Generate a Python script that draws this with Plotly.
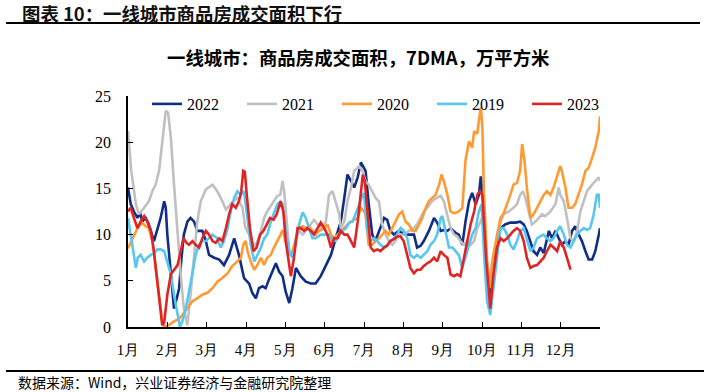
import plotly.graph_objects as go

# ---------------- data (x in months since Jan 1, value in 万平方米) ----------------
month_labels = ["1月", "2月", "3月", "4月", "5月", "6月", "7月", "8月", "9月", "10月", "11月", "12月"]
month_ticks = list(range(12))

x_2022 = [0.00, 0.07, 0.15, 0.24, 0.31, 0.36, 0.45, 0.53, 0.66, 0.75, 0.83, 0.92, 0.96, 1.00, 1.09, 1.17, 1.24, 1.30, 1.36, 1.42,
          1.51, 1.59, 1.68, 1.76, 1.89, 1.98, 2.06, 2.19, 2.32, 2.44, 2.57, 2.70, 2.82, 2.95, 3.08, 3.16, 3.25, 3.33, 3.42, 3.50,
          3.58, 3.67, 3.76, 3.84, 3.93, 4.01, 4.10, 4.18, 4.27, 4.39, 4.52, 4.65, 4.77, 4.90, 5.03, 5.16, 5.28, 5.41, 5.50, 5.58,
          5.67, 5.75, 5.84, 5.92, 5.95, 6.04, 6.12, 6.21, 6.29, 6.42, 6.51, 6.59, 6.67, 6.76, 6.89, 7.01, 7.14, 7.27, 7.35, 7.44,
          7.52, 7.65, 7.78, 7.86, 7.95, 8.03, 8.12, 8.20, 8.33, 8.41, 8.50, 8.58, 8.67, 8.75, 8.84, 8.92, 8.97, 9.02, 9.08, 9.21,
          9.29, 9.38, 9.47, 9.59, 9.72, 9.85, 9.97, 10.06, 10.14, 10.23, 10.31, 10.40, 10.48, 10.57, 10.65, 10.70, 10.78, 10.87, 10.95, 11.03,
          11.12, 11.20, 11.29, 11.37, 11.46, 11.54, 11.63, 11.71, 11.80, 11.88, 11.97, 12.00]
y_2022 = [15.1, 13.3, 12.5, 11.8, 12.4, 11.4, 11.8, 11.1, 9.3, 10.7, 11.8, 13.6, 12.9, 10.0, 6.0, 2.0, 3.1, 4.2, 7.5, 10.0,
          11.4, 11.8, 11.4, 10.4, 10.4, 9.3, 7.8, 7.5, 7.3, 6.7, 7.8, 9.6, 7.8, 5.3, 4.7, 3.7, 3.1, 4.2, 4.4, 4.2,
          5.1, 6.0, 6.9, 6.0, 5.5, 3.8, 2.6, 4.2, 6.4, 5.5, 4.9, 4.7, 4.7, 5.5, 6.7, 7.8, 9.6, 11.4, 14.0, 16.5,
          15.8, 15.1, 16.2, 17.8, 17.6, 16.9, 13.3, 10.0, 9.3, 10.7, 11.8, 11.6, 10.4, 10.0, 10.4, 10.0, 10.0, 10.0, 8.6, 8.8,
          9.3, 10.4, 11.8, 11.3, 10.4, 10.5, 10.4, 10.7, 10.2, 10.0, 8.9, 11.4, 13.6, 14.5, 13.3, 14.3, 16.3, 14.3, 8.9, 3.3,
          6.4, 8.9, 10.7, 11.1, 11.3, 11.3, 11.4, 11.1, 10.4, 9.3, 8.2, 7.8, 8.6, 8.0, 9.3, 10.4, 9.6, 10.4, 9.6, 8.9,
          9.3, 8.9, 10.4, 10.9, 10.0, 9.3, 8.2, 7.3, 7.3, 8.2, 10.0, 10.7]

x_2021 = [0.00, 0.08, 0.20, 0.28, 0.41, 0.53, 0.62, 0.70, 0.79, 0.87, 0.96, 1.02, 1.09, 1.17, 1.26, 1.34, 1.42, 1.51, 1.59, 1.68,
          1.76, 1.85, 1.98, 2.15, 2.27, 2.40, 2.49, 2.61, 2.78, 2.91, 2.98, 3.08, 3.21, 3.29, 3.38, 3.46, 3.54, 3.63, 3.71, 3.80,
          3.87, 3.93, 3.97, 4.03, 4.10, 4.18, 4.27, 4.35, 4.44, 4.52, 4.65, 4.73, 4.82, 4.94, 5.03, 5.11, 5.20, 5.28, 5.37, 5.41,
          5.50, 5.58, 5.67, 5.75, 5.88, 5.96, 6.04, 6.12, 6.21, 6.29, 6.38, 6.46, 6.55, 6.63, 6.72, 6.80, 6.89, 7.01, 7.14, 7.27,
          7.35, 7.44, 7.52, 7.61, 7.69, 7.78, 7.86, 7.95, 8.03, 8.12, 8.20, 8.29, 8.37, 8.45, 8.54, 8.63, 8.71, 8.80, 8.88, 8.97,
          9.02, 9.13, 9.21, 9.29, 9.42, 9.55, 9.68, 9.80, 9.89, 9.97, 10.04, 10.10, 10.19, 10.27, 10.36, 10.44, 10.53, 10.61, 10.74, 10.87,
          10.95, 10.99, 11.08, 11.16, 11.25, 11.33, 11.42, 11.50, 11.59, 11.67, 11.80, 11.88, 11.97, 12.00]
y_2021 = [21.2, 17.0, 13.3, 12.2, 12.9, 13.6, 14.7, 15.4, 16.9, 19.8, 23.4, 23.2, 20.5, 15.4, 10.0, 5.7, 2.0, 0.2, 3.5, 8.2,
          11.4, 13.6, 14.9, 15.4, 14.7, 13.6, 12.7, 13.3, 14.0, 12.9, 10.8, 10.0, 8.7, 9.3, 10.4, 11.8, 12.5, 13.1, 13.6, 14.2,
          14.3, 15.8, 14.7, 11.4, 8.2, 7.5, 9.6, 10.4, 10.0, 10.4, 11.1, 11.6, 11.1, 10.7, 11.4, 14.3, 14.7, 13.6, 12.2, 10.7,
          11.4, 13.6, 15.1, 16.9, 17.4, 16.9, 15.8, 15.4, 14.7, 14.0, 13.6, 11.1, 10.0, 9.3, 8.9, 9.3, 10.0, 10.0, 10.4, 10.7,
          11.1, 11.8, 12.5, 12.9, 13.4, 13.8, 14.0, 14.2, 13.6, 12.2, 10.7, 10.0, 9.8, 9.3, 8.9, 9.3, 8.9, 9.3, 10.7, 11.5,
          12.0, 6.4, 6.0, 7.8, 10.7, 12.2, 12.5, 12.9, 13.3, 14.3, 14.7, 14.0, 12.5, 11.1, 11.4, 11.8, 12.2, 12.0, 12.5, 13.3,
          15.1, 14.3, 13.6, 11.8, 9.6, 9.3, 10.4, 12.5, 13.6, 14.7, 15.4, 15.8, 16.2, 15.8]

x_2020 = [0.00, 0.11, 0.24, 0.36, 0.45, 0.53, 0.62, 0.70, 0.79, 0.87, 0.92, 1.04, 1.17, 1.30, 1.38, 1.51, 1.64, 1.76, 1.89, 2.02,
          2.15, 2.27, 2.40, 2.53, 2.65, 2.78, 2.87, 2.93, 2.99, 3.04, 3.12, 3.21, 3.29, 3.38, 3.46, 3.54, 3.63, 3.71, 3.80, 3.88,
          3.93, 4.01, 4.10, 4.18, 4.27, 4.35, 4.44, 4.52, 4.60, 4.69, 4.77, 4.86, 4.99, 5.07, 5.16, 5.24, 5.33, 5.41, 5.50, 5.58,
          5.67, 5.75, 5.84, 5.92, 6.01, 6.04, 6.12, 6.21, 6.29, 6.38, 6.46, 6.55, 6.63, 6.72, 6.80, 6.89, 6.97, 7.06, 7.14, 7.23,
          7.31, 7.40, 7.48, 7.57, 7.65, 7.74, 7.82, 7.91, 7.97, 8.03, 8.12, 8.20, 8.29, 8.41, 8.50, 8.54, 8.58, 8.67, 8.75, 8.80,
          8.88, 8.92, 8.97, 9.01, 9.05, 9.13, 9.21, 9.29, 9.38, 9.47, 9.55, 9.64, 9.72, 9.80, 9.89, 9.97, 10.02, 10.08, 10.14, 10.23,
          10.31, 10.40, 10.48, 10.57, 10.65, 10.74, 10.82, 10.91, 10.99, 11.03, 11.12, 11.20, 11.29, 11.37, 11.46, 11.54, 11.63, 11.71, 11.80, 11.88,
          11.97, 12.00]
y_2020 = [8.5, 9.6, 10.7, 11.3, 10.9, 10.7, 9.3, 6.4, 3.5, 0.6, 0.0, 0.2, 0.6, 0.9, 1.3, 2.0, 2.8, 3.1, 3.5, 3.7,
          4.2, 4.9, 5.3, 5.8, 6.6, 7.1, 7.5, 8.9, 9.3, 8.2, 7.1, 6.2, 6.7, 7.5, 6.7, 7.5, 7.8, 8.6, 9.3, 10.0,
          10.5, 9.3, 7.8, 8.2, 9.6, 10.7, 10.9, 10.7, 10.9, 10.4, 10.0, 10.4, 10.7, 11.1, 10.0, 9.6, 10.0, 10.4, 10.7, 11.1,
          11.4, 11.6, 11.8, 12.9, 12.5, 12.2, 8.9, 8.9, 9.3, 9.6, 10.0, 10.4, 10.0, 10.7, 11.4, 12.2, 12.5, 11.4, 11.1, 10.4,
          10.4, 11.1, 11.8, 12.9, 13.6, 14.0, 14.3, 15.4, 16.5, 15.8, 14.3, 12.5, 12.3, 12.5, 12.9, 15.4, 18.0, 20.1, 19.4, 21.2,
          20.9, 22.3, 23.8, 21.6, 14.3, 7.1, 4.2, 7.8, 10.0, 11.8, 12.3, 13.3, 14.3, 15.4, 15.6, 16.9, 19.8, 18.0, 15.1, 11.8,
          12.2, 12.9, 13.6, 14.3, 14.7, 14.3, 15.1, 16.2, 17.4, 16.9, 15.1, 12.9, 12.9, 13.3, 14.3, 15.4, 16.9, 17.2, 18.3, 19.4,
          21.2, 22.8]

x_2019 = [0.00, 0.07, 0.14, 0.20, 0.25, 0.32, 0.41, 0.49, 0.58, 0.66, 0.75, 0.83, 0.92, 1.00, 1.09, 1.17, 1.26, 1.32, 1.38, 1.47,
          1.55, 1.64, 1.72, 1.81, 1.89, 1.98, 2.06, 2.15, 2.27, 2.36, 2.44, 2.53, 2.61, 2.70, 2.78, 2.87, 2.95, 3.04, 3.12, 3.21,
          3.29, 3.38, 3.46, 3.54, 3.63, 3.71, 3.80, 3.88, 3.93, 4.01, 4.10, 4.18, 4.27, 4.35, 4.44, 4.52, 4.60, 4.69, 4.77, 4.90,
          5.03, 5.11, 5.20, 5.28, 5.37, 5.45, 5.54, 5.62, 5.71, 5.79, 5.88, 5.96, 6.00, 6.08, 6.17, 6.25, 6.34, 6.42, 6.51, 6.59,
          6.67, 6.76, 6.84, 6.93, 7.01, 7.10, 7.18, 7.27, 7.35, 7.44, 7.52, 7.61, 7.69, 7.78, 7.86, 7.95, 7.99, 8.08, 8.16, 8.25,
          8.33, 8.41, 8.50, 8.58, 8.67, 8.75, 8.84, 8.92, 8.99, 9.05, 9.13, 9.21, 9.29, 9.38, 9.47, 9.55, 9.64, 9.72, 9.80, 9.89,
          9.97, 10.06, 10.14, 10.23, 10.31, 10.40, 10.48, 10.57, 10.65, 10.74, 10.82, 10.91, 10.99, 11.08, 11.16, 11.25, 11.33, 11.42, 11.50, 11.59,
          11.67, 11.75, 11.84, 11.92, 11.97, 12.00]
y_2019 = [11.8, 10.0, 7.8, 6.4, 7.5, 7.8, 7.1, 7.5, 7.8, 8.0, 8.4, 8.4, 8.2, 7.1, 5.7, 3.5, 1.3, 0.0, 0.6, 2.0,
          3.8, 6.0, 7.8, 8.9, 9.3, 9.3, 9.6, 10.0, 9.6, 8.6, 9.3, 10.7, 12.5, 14.0, 14.7, 14.3, 14.7, 11.8, 8.9, 7.1,
          7.8, 8.6, 9.6, 10.0, 11.4, 12.2, 13.3, 13.6, 13.3, 10.4, 8.2, 7.5, 9.6, 11.1, 12.4, 11.8, 10.7, 9.6, 9.6, 10.0,
          10.0, 10.0, 9.3, 9.3, 10.0, 10.4, 10.7, 11.3, 11.4, 12.2, 13.3, 14.3, 14.5, 10.4, 9.3, 9.6, 9.3, 8.9, 8.6, 8.9,
          9.3, 9.6, 10.0, 10.7, 10.4, 9.6, 7.8, 7.5, 7.8, 7.5, 7.8, 8.2, 8.9, 9.3, 10.0, 11.8, 12.0, 10.0, 8.6, 8.6,
          8.2, 7.8, 6.4, 7.5, 8.9, 10.0, 10.7, 12.5, 13.3, 8.0, 2.8, 1.3, 4.2, 7.8, 10.7, 10.7, 10.0, 8.9, 8.4, 9.3,
          10.4, 10.7, 9.6, 8.2, 8.6, 9.6, 9.8, 10.0, 9.6, 9.3, 9.6, 10.4, 10.9, 10.0, 8.9, 8.6, 9.3, 10.0, 10.4, 10.7,
          10.5, 10.7, 12.2, 14.3, 14.3, 12.9]

x_2023 = [0.00, 0.07, 0.15, 0.24, 0.32, 0.41, 0.49, 0.58, 0.66, 0.75, 0.83, 0.87, 0.92, 1.00, 1.09, 1.17, 1.26, 1.34, 1.41, 1.49,
          1.55, 1.64, 1.72, 1.81, 1.89, 1.98, 2.06, 2.15, 2.23, 2.32, 2.40, 2.49, 2.57, 2.65, 2.74, 2.82, 2.88, 2.93, 2.97, 3.02,
          3.10, 3.19, 3.27, 3.36, 3.44, 3.53, 3.61, 3.70, 3.78, 3.88, 3.95, 4.01, 4.10, 4.14, 4.22, 4.31, 4.39, 4.48, 4.56, 4.65,
          4.73, 4.82, 4.90, 4.99, 5.07, 5.16, 5.24, 5.33, 5.41, 5.50, 5.58, 5.67, 5.75, 5.84, 5.92, 5.97, 6.02, 6.04, 6.11, 6.17,
          6.25, 6.34, 6.42, 6.51, 6.59, 6.67, 6.76, 6.84, 6.93, 7.01, 7.10, 7.18, 7.27, 7.35, 7.44, 7.52, 7.61, 7.69, 7.78, 7.86,
          7.95, 8.03, 8.12, 8.20, 8.29, 8.37, 8.45, 8.54, 8.63, 8.71, 8.80, 8.88, 8.94, 9.01, 9.11, 9.17, 9.21, 9.29, 9.38, 9.47,
          9.55, 9.64, 9.72, 9.80, 9.89, 9.97, 10.06, 10.14, 10.23, 10.31, 10.40, 10.48, 10.57, 10.65, 10.74, 10.82, 10.91, 10.99, 11.08, 11.16,
          11.25]
y_2023 = [12.5, 12.9, 11.8, 10.7, 11.4, 12.0, 11.4, 10.4, 8.2, 4.9, 1.7, 0.2, 0.5, 3.5, 5.7, 6.2, 6.7, 8.2, 9.6, 9.1,
          8.9, 9.3, 8.9, 8.6, 9.6, 10.4, 10.0, 9.3, 9.1, 9.6, 9.3, 10.7, 12.2, 13.3, 12.9, 13.6, 14.7, 16.9, 16.8, 14.3,
          10.7, 8.2, 8.6, 10.0, 10.4, 11.1, 11.8, 11.6, 12.2, 13.6, 12.5, 9.3, 6.4, 5.5, 7.5, 10.7, 10.7, 10.4, 10.7, 10.4,
          10.0, 10.7, 11.3, 10.7, 10.0, 8.6, 9.6, 9.6, 10.4, 10.0, 10.0, 9.3, 8.6, 11.4, 14.3, 16.5, 15.8, 14.7, 11.4, 8.6,
          8.2, 8.4, 8.2, 8.6, 8.8, 9.3, 9.5, 9.8, 9.8, 9.3, 7.8, 6.4, 5.8, 6.2, 6.2, 6.6, 6.9, 7.1, 7.5, 7.1,
          8.2, 7.8, 7.5, 5.7, 5.5, 5.7, 5.5, 7.5, 9.6, 11.1, 12.5, 14.3, 14.7, 14.3, 7.1, 3.5, 2.0, 5.7, 8.6, 9.6,
          9.3, 9.6, 10.0, 10.4, 10.7, 10.4, 9.3, 7.5, 6.4, 6.6, 6.7, 7.1, 7.5, 8.2, 8.9, 8.6, 8.2, 9.3, 8.6, 7.5,
          6.2]

series = [
    ("2022", x_2022, y_2022, "#112E86"),
    ("2021", x_2021, y_2021, "#C0C0C0"),
    ("2020", x_2020, y_2020, "#FF9A33"),
    ("2019", x_2019, y_2019, "#57C6F0"),
    ("2023", x_2023, y_2023, "#E02424"),
]

# plot-area geometry helpers (pixels -> paper) for decorations only
L, R, T, B = 128, 600, 96, 327
W, H = 708, 392
def px(x):
    return (x - L) / (R - L)
def py(y):
    return (B - y) / (B - T)

SERIF = "Times New Roman, Liberation Serif, serif"
CJK = "Noto Sans CJK SC, sans-serif"

fig = go.Figure()
for name, xs, ys, col in series:
    fig.add_trace(go.Scatter(x=xs, y=ys, mode="lines", name=name,
                             line=dict(color=col, width=2.6, shape="linear")))

fig.update_layout(
    width=W, height=H,
    margin=dict(l=L, r=W - R, t=T, b=H - B, pad=0, autoexpand=False),
    paper_bgcolor="white", plot_bgcolor="white",
    font=dict(family=SERIF, size=16, color="black"),
    showlegend=True,
    legend=dict(orientation="h", x=px(147), y=py(87), xanchor="left", yanchor="top",
                bgcolor="rgba(0,0,0,0)", borderwidth=0,
                font=dict(family=SERIF, size=16, color="black"),
                entrywidth=50, entrywidthmode="pixels",
                tracegroupgap=0, itemwidth=30),
    xaxis=dict(range=[0, 12], tickvals=month_ticks, ticktext=month_labels,
               showline=True, linecolor="black", linewidth=1.5, mirror=False,
               ticks="inside", ticklen=5, tickwidth=1.2, tickcolor="black",
               showgrid=False, zeroline=False,
               tickfont=dict(family=SERIF, size=15, color="black"),
               ticklabelstandoff=8),
    yaxis=dict(range=[0, 25], dtick=5, tick0=0,
               showline=True, linecolor="black", linewidth=1.5,
               ticks="inside", ticklen=5, tickwidth=1.2, tickcolor="black",
               showgrid=False, zeroline=False,
               tickfont=dict(family=SERIF, size=16, color="black"),
               ticklabelstandoff=12),
)

shapes = [
    dict(type="line", xref="paper", yref="paper", x0=px(6), x1=px(700), y0=py(23), y1=py(23),
         line=dict(color="black", width=1.8)),
    dict(type="line", xref="paper", yref="paper", x0=px(6), x1=px(704), y0=py(371), y1=py(371),
         line=dict(color="black", width=1.8)),
]
fig.update_layout(shapes=shapes)

fig.add_annotation(x=px(20), y=py(12.5), xref="paper", yref="paper", xanchor="left", yanchor="middle",
                   text="<b>图表 10：一线城市商品房成交面积下行</b>", showarrow=False,
                   font=dict(family=CJK, size=18.4, color="#111111"))
fig.add_annotation(x=px(358), y=py(57.5), xref="paper", yref="paper", xanchor="center", yanchor="middle",
                   text="<b>一线城市：商品房成交面积，7DMA，万平方米</b>", showarrow=False,
                   font=dict(family=CJK, size=18.4, color="black"))
fig.add_annotation(x=px(16), y=py(381.5), xref="paper", yref="paper", xanchor="left", yanchor="middle",
                   text="数据来源：Wind，兴业证券经济与金融研究院整理", showarrow=False,
                   font=dict(family=CJK, size=14, color="black"))

fig.write_html("out.html", config={"displayModeBar": False},
               post_script="document.body.style.margin='0px';")
